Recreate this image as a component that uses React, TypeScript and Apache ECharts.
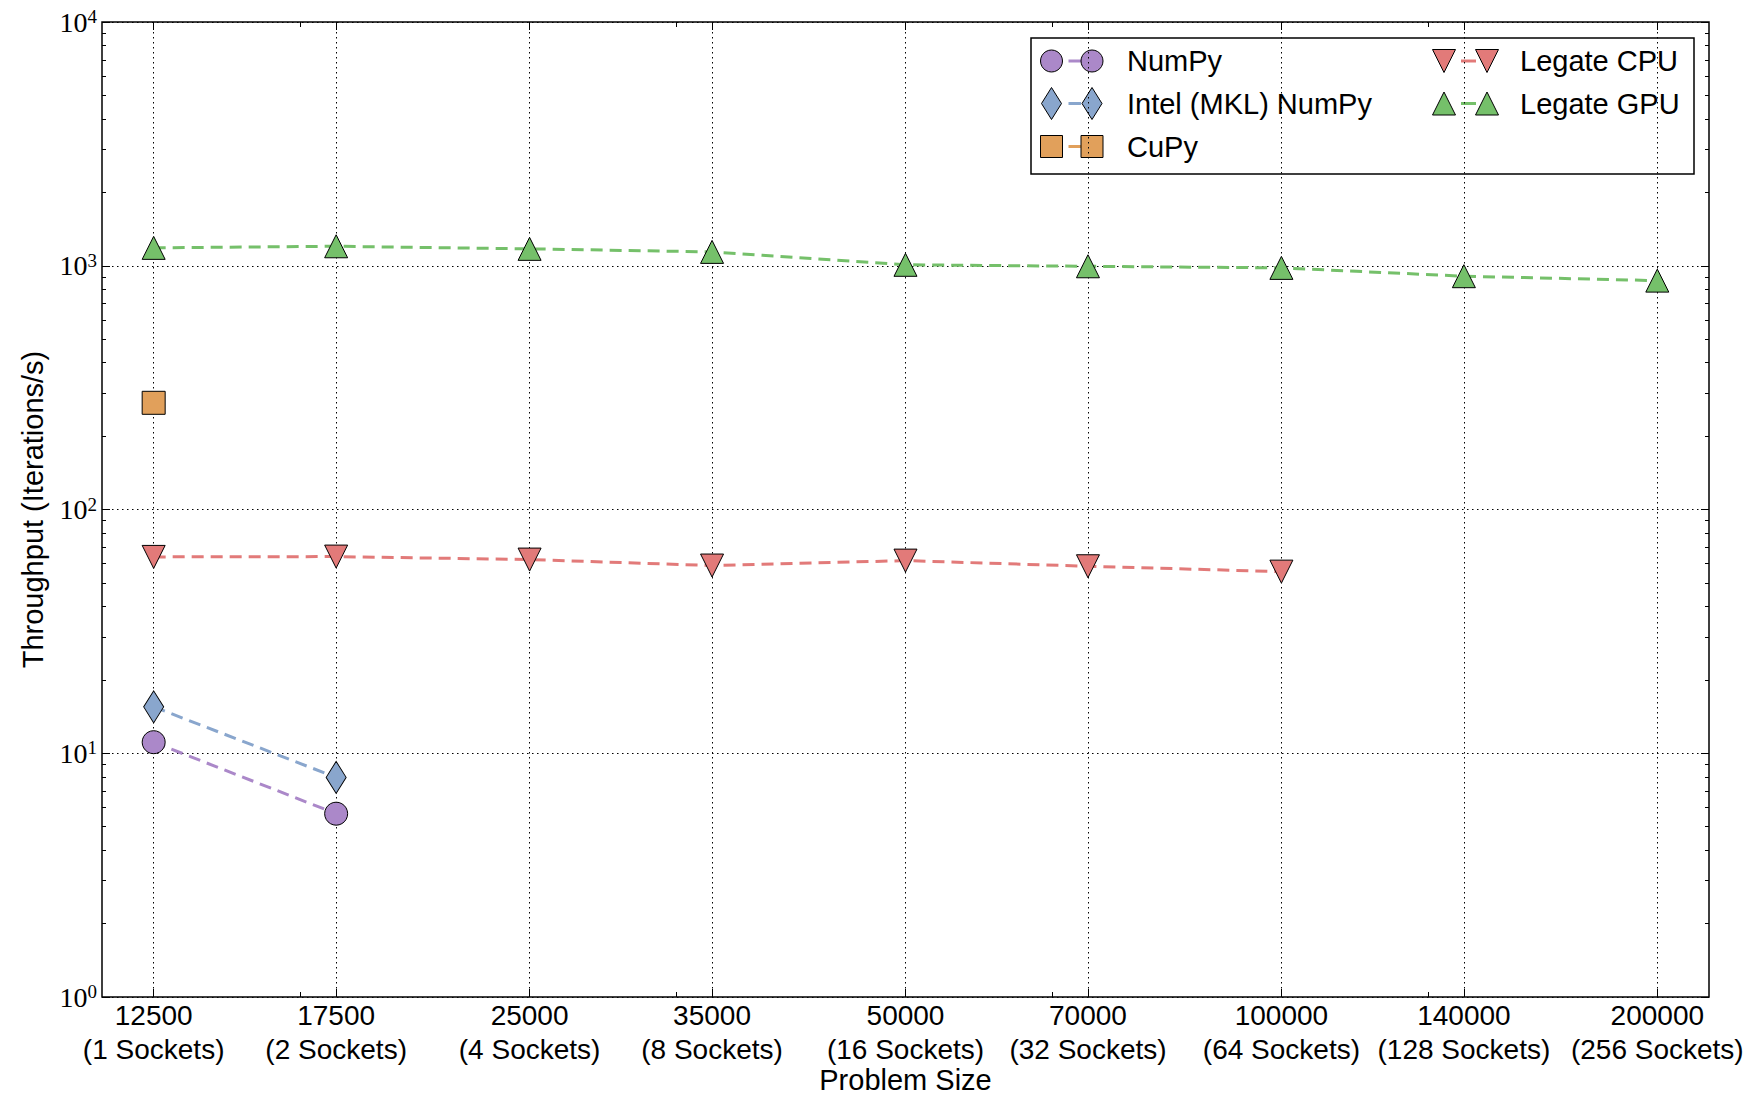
import React, { useEffect, useRef } from "react";
import * as echarts from "echarts";

// ---------- data ----------
const problemSizes = [12500, 17500, 25000, 35000, 50000, 70000, 100000, 140000, 200000];
const socketLabels = [
  "1 Sockets", "2 Sockets", "4 Sockets", "8 Sockets", "16 Sockets",
  "32 Sockets", "64 Sockets", "128 Sockets", "256 Sockets",
];
const numpyValues = [11.1, 5.65];
const intelNumpyValues = [15.5, 7.96];
const cupyValues = [274];
const legateCpuValues = [63.9, 64.1, 62.3, 58.9, 61.7, 58.5, 55.6];
const legateGpuValues = [1184, 1202, 1173, 1140, 1009, 995, 980, 906, 869];

const yMajorTicks = [1, 10, 100, 1000, 10000];
const yMinorTicks = [
  2, 3, 4, 5, 6, 7, 8, 9,
  20, 30, 40, 50, 60, 70, 80, 90,
  200, 300, 400, 500, 600, 700, 800, 900,
  2000, 3000, 4000, 5000, 6000, 7000, 8000, 9000,
];
const xMinorTicks = [16384, 32768, 65536, 131072];

const X_MIN = 11364;
const X_MAX = 220000;

// ---------- styles ----------
const COLORS = {
  numpy: "#ab88c9",
  intel: "#89a6cd",
  cupy: "#e1a05b",
  cpu: "#e27a79",
  gpu: "#75c06a",
};
const SANS = "'Liberation Sans', Arial, sans-serif";
const SERIF = "'Liberation Serif', 'DejaVu Serif', serif";

const pts = (vals: number[]) => vals.map((v, i) => [problemSizes[i], v]);

function makeSeries(
  name: string,
  vals: number[],
  color: string,
  symbol: string,
  symbolSize: number | number[],
  rotate = 0
) {
  return {
    name,
    type: "line",
    xAxisIndex: 0,
    yAxisIndex: 0,
    data: pts(vals),
    symbol,
    symbolSize,
    symbolRotate: rotate,
    showSymbol: true,
    itemStyle: { color, borderColor: "#000", borderWidth: 1, opacity: 1 },
    lineStyle: { color, width: 3, type: [12, 7] },
    emphasis: { disabled: true },
    z: 3,
  };
}

// ---------- legend (drawn as graphic) ----------
type Shape = "circle" | "diamond" | "rect" | "triUp" | "triDown";
const legendEntries: { name: string; shape: Shape; color: string; col: number; row: number }[] = [
  { name: "NumPy", shape: "circle", color: COLORS.numpy, col: 0, row: 0 },
  { name: "Intel (MKL) NumPy", shape: "diamond", color: COLORS.intel, col: 0, row: 1 },
  { name: "CuPy", shape: "rect", color: COLORS.cupy, col: 0, row: 2 },
  { name: "Legate CPU", shape: "triDown", color: COLORS.cpu, col: 1, row: 0 },
  { name: "Legate GPU", shape: "triUp", color: COLORS.gpu, col: 1, row: 1 },
];

function legendMarker(shape: Shape, cx: number, cy: number, color: string) {
  const style = { fill: color, stroke: "#000", lineWidth: 1 };
  const h = 11.5;
  switch (shape) {
    case "circle":
      return { type: "circle", shape: { cx, cy, r: 11 }, style };
    case "rect":
      return { type: "rect", shape: { x: cx - 11, y: cy - 11, width: 22, height: 22 }, style };
    case "diamond":
      return {
        type: "polygon",
        shape: { points: [[cx, cy - 16], [cx + 10, cy], [cx, cy + 16], [cx - 10, cy]] },
        style,
      };
    case "triUp":
      return {
        type: "polygon",
        shape: { points: [[cx, cy - h], [cx + h, cy + h], [cx - h, cy + h]] },
        style,
      };
    case "triDown":
    default:
      return {
        type: "polygon",
        shape: { points: [[cx, cy + h], [cx + h, cy - h], [cx - h, cy - h]] },
        style,
      };
  }
}

function buildLegend() {
  const boxX = 1031, boxY = 38, boxW = 663, boxH = 136;
  const rowY = [61, 103.5, 146.5];
  const colM1 = [1051.5, 1444];
  const colM2 = [1092, 1487];
  const colText = [1127, 1520];
  const children: any[] = [
    {
      type: "rect",
      shape: { x: boxX, y: boxY, width: boxW, height: boxH },
      style: { fill: "#fff", stroke: "#000", lineWidth: 1.5 },
    },
  ];
  legendEntries.forEach((e) => {
    const cy = rowY[e.row];
    const m1 = colM1[e.col];
    const m2 = colM2[e.col];
    children.push({
      type: "line",
      shape: { x1: m1 + 17, y1: cy, x2: m2 - 11, y2: cy },
      style: { stroke: e.color, lineWidth: 3 },
    });
    children.push(legendMarker(e.shape, m1, cy, e.color));
    children.push(legendMarker(e.shape, m2, cy, e.color));
    children.push({
      type: "text",
      x: colText[e.col],
      y: cy,
      style: {
        text: e.name,
        fill: "#000",
        fontFamily: SANS,
        fontSize: 29,
        verticalAlign: "middle",
        align: "left",
      },
    });
  });
  return [{ type: "group", z: 100, children }];
}

function xLabel(v: number) {
  let best = 0;
  let bestD = Infinity;
  problemSizes.forEach((p, i) => {
    const d = Math.abs(Math.log(p) - Math.log(v));
    if (d < bestD) {
      bestD = d;
      best = i;
    }
  });
  return `${problemSizes[best]}\n(${socketLabels[best]})`;
}

const gridLine = { show: true, lineStyle: { color: "#000", width: 1, type: [1.5, 3.5] } };

const baseX = {
  type: "log",
  logBase: 10,
  min: X_MIN,
  max: X_MAX,
  gridIndex: 0,
  axisLine: { show: false },
  splitLine: { show: false },
  minorTick: { show: false },
  axisLabel: { show: false },
};
const baseY = {
  type: "log",
  logBase: 10,
  min: 1,
  max: 10000,
  gridIndex: 0,
  axisLine: { show: false },
  splitLine: { show: false },
  minorTick: { show: false },
  axisLabel: { show: false },
};
const tickStyle = { color: "#000", width: 1 };

const option: any = {
  animation: false,
  backgroundColor: "#fff",
  textStyle: { fontFamily: SANS },
  grid: {
    left: 102,
    top: 22,
    right: 42,
    bottom: 98,
    containLabel: false,
    outerBoundsMode: "none",
    show: true,
    borderColor: "#000",
    borderWidth: 1.5,
    backgroundColor: "#fff",
  },
  xAxis: [
    {
      ...baseX,
      position: "bottom",
      name: "Problem Size",
      nameLocation: "middle",
      nameGap: 70,
      nameMoveOverlap: false,
      nameTextStyle: { fontFamily: SANS, fontSize: 29, lineHeight: 25, color: "#000" },
      axisTick: { show: true, inside: true, length: 8, lineStyle: tickStyle, customValues: problemSizes },
      splitLine: gridLine,
      axisLabel: {
        show: true,
        customValues: problemSizes,
        formatter: (v: number) => xLabel(v),
        fontFamily: SANS,
        fontSize: 28,
        lineHeight: 34,
        color: "#000",
        margin: 1,
        hideOverlap: false,
      },
    },
    {
      ...baseX,
      position: "bottom",
      axisTick: { show: true, inside: true, length: 5, lineStyle: tickStyle, customValues: xMinorTicks },
    },
    {
      ...baseX,
      position: "top",
      axisTick: { show: true, inside: true, length: 8, lineStyle: tickStyle, customValues: problemSizes },
    },
    {
      ...baseX,
      position: "top",
      axisTick: { show: true, inside: true, length: 5, lineStyle: tickStyle, customValues: xMinorTicks },
    },
  ],
  yAxis: [
    {
      ...baseY,
      position: "left",
      name: "Throughput (Iterations/s)",
      nameLocation: "middle",
      nameGap: 55,
      nameMoveOverlap: false,
      nameTextStyle: { fontFamily: SANS, fontSize: 29, color: "#000" },
      axisTick: { show: true, inside: true, length: 8, lineStyle: tickStyle, customValues: yMajorTicks },
      splitLine: gridLine,
      axisLabel: {
        show: true,
        customValues: yMajorTicks,
        margin: 5,
        formatter: (v: number) => `{b|10}{s|${Math.round(Math.log10(v))}}`,
        rich: {
          b: { fontFamily: SERIF, fontSize: 28, lineHeight: 30, color: "#000" },
          s: { fontFamily: SERIF, fontSize: 19, lineHeight: 22, verticalAlign: "top", color: "#000" },
        },
      },
    },
    {
      ...baseY,
      position: "left",
      axisTick: { show: true, inside: true, length: 4, lineStyle: tickStyle, customValues: yMinorTicks },
    },
    {
      ...baseY,
      position: "right",
      axisTick: { show: true, inside: true, length: 8, lineStyle: tickStyle, customValues: yMajorTicks },
    },
    {
      ...baseY,
      position: "right",
      axisTick: { show: true, inside: true, length: 4, lineStyle: tickStyle, customValues: yMinorTicks },
    },
  ],
  series: [
    makeSeries("NumPy", numpyValues, COLORS.numpy, "circle", 23),
    makeSeries("Intel (MKL) NumPy", intelNumpyValues, COLORS.intel, "diamond", [20, 32]),
    makeSeries("CuPy", cupyValues, COLORS.cupy, "rect", 23),
    makeSeries("Legate CPU", legateCpuValues, COLORS.cpu, "triangle", 23, 180),
    makeSeries("Legate GPU", legateGpuValues, COLORS.gpu, "triangle", 23),
  ],
  graphic: buildLegend(),
};

export default function App() {
  const ref = useRef<HTMLDivElement>(null);
  useEffect(() => {
    if (!ref.current) return;
    const chart = echarts.init(ref.current, null, { renderer: "svg" });
    chart.setOption(option);
    return () => chart.dispose();
  }, []);
  return (
    <div
      ref={ref}
      style={{ position: "fixed", left: 0, top: 0, width: 1751, height: 1095, background: "#fff" }}
    />
  );
}
